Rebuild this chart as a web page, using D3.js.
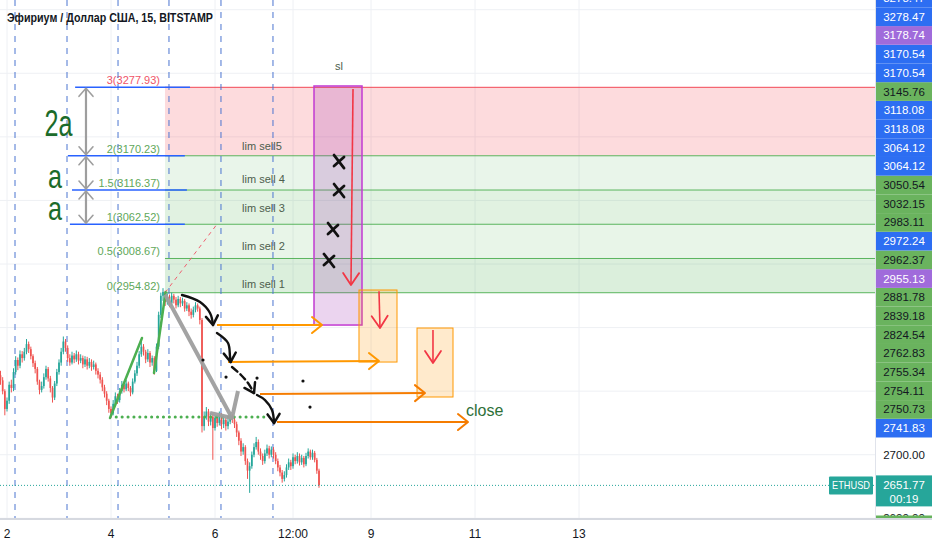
<!DOCTYPE html>
<html><head><meta charset="utf-8">
<script src="https://cdn.jsdelivr.net/npm/d3@7/dist/d3.min.js"></script>
<style>
body{margin:0;background:#fff;}
svg{display:block;font-family:"Liberation Sans",Arial,sans-serif;}
</style>
</head><body>
<svg id="c" width="932" height="550"></svg>
<script>
// ---------------- DATA ----------------
const title = "Эфириум / Доллар США, 15, BITSTAMP";
const monthBaseUTC = [2022, 1, 1];          // day 1 of the month shown
const firstCandleDay = 1.875;               // first (hourly-sampled) candle
const firstOpen = 2825;
const closes = [2817,2800,2772,2785,2810,2805,2830,2849,2840,2858,2852,2862,2874,2866,2855,2844,2835,2815,2802,2808,
2822,2835,2820,2805,2790,2812,2830,2845,2862,2878,2868,2852,2845,2856,2850,2858,2848,2852,2842,2850,
2840,2846,2838,2842,2832,2826,2818,2806,2796,2785,2772,2765,2780,2792,2786,2800,2810,2803,2812,2805,
2798,2815,2828,2840,2858,2870,2862,2850,2860,2845,2852,2832,2870,2920,2950,2956,2940,2948,2938,2950,
2944,2935,2945,2938,2942,2930,2935,2925,2920,2928,2935,2930,2912,2745,2760,2768,2752,2760,2742,2758,
2750,2762,2748,2755,2745,2752,2760,2755,2748,2735,2722,2705,2712,2690,2675,2682,2700,2712,2720,2705,
2698,2690,2702,2710,2700,2708,2700,2690,2680,2672,2662,2668,2680,2688,2682,2696,2690,2698,2688,2695,
2685,2698,2705,2696,2703,2692,2675,2652];
const highs = [2832,2822,2803,2790,2815,2818,2836,2855,2853,2864,2863,2868,2882,2878,2870,2858,2848,2838,2818,2815,
2828,2840,2838,2824,2808,2816,2835,2850,2868,2886,2882,2872,2858,2862,2860,2864,2862,2858,2856,2855,
2854,2852,2850,2848,2845,2836,2830,2822,2810,2800,2788,2776,2786,2798,2796,2805,2816,2814,2818,2815,
2808,2820,2833,2846,2863,2880,2874,2865,2866,2863,2856,2855,2875,2925,2955,2962,2958,2954,2952,2955,
2953,2948,2950,2948,2947,2945,2940,2938,2930,2933,2940,2938,2933,2915,2768,2775,2772,2766,2764,2763,
2762,2768,2765,2760,2758,2757,2765,2764,2758,2752,2738,2726,2718,2715,2694,2688,2705,2718,2728,2724,
2710,2702,2708,2716,2714,2713,2712,2704,2694,2684,2676,2674,2685,2694,2692,2702,2700,2704,2702,2700,
2698,2703,2710,2708,2708,2706,2695,2678];
const lows = [2810,2795,2762,2768,2780,2798,2800,2826,2833,2836,2845,2848,2858,2860,2850,2838,2828,2810,2795,2798,
2804,2818,2815,2798,2782,2786,2808,2826,2840,2858,2862,2846,2840,2842,2844,2846,2842,2844,2836,2838,
2834,2836,2832,2834,2826,2820,2812,2800,2790,2778,2766,2758,2762,2776,2780,2782,2796,2798,2800,2800,
2792,2795,2812,2824,2836,2854,2856,2844,2846,2838,2840,2826,2830,2866,2915,2942,2934,2936,2932,2934,
2938,2930,2932,2932,2934,2925,2926,2918,2914,2916,2924,2925,2905,2735,2738,2755,2745,2746,2692,2738,
2744,2746,2740,2742,2738,2740,2748,2750,2742,2728,2715,2698,2700,2684,2662,2640,2678,2696,2708,2700,
2692,2684,2686,2698,2694,2696,2694,2685,2674,2666,2656,2658,2664,2676,2676,2678,2685,2686,2683,2684,
2680,2682,2694,2692,2692,2688,2670,2648];

const fibRatios = [3, 2, 1.5, 1, 0.5, 0];
const fibPrices = [3277.93, 3170.23, 3116.37, 3062.52, 3008.67, 2954.82];
const fibStartDay = 5.038;
const fibTrend = [[5.038, 2954.82], [6.038, 3062.52]];
const limSellTexts = ["lim sell5", "lim sell 4", "lim sell 3", "lim sell 2", "lim sell 1"];
const limSellAnchor = [[6.52, 3179.3], [6.52, 3127.4], [6.52, 3081.8], [6.52, 3022.0], [6.52, 2962.2]];

const gridPrices = [2600, 2700, 2800, 2900, 3000, 3100, 3200, 3300, 3400];
const timeTickDays = [2, 4, 6, 7.5, 9, 11, 13];
const timeTickLabels = ["2", "4", "6", "12:00", "9", "11", "13"];
const sessionLineDays = [2.154, 3.154, 4.135, 5.115, 6.115, 7.115];

// user drawings (day, price)
const blueLevelStart = [3.31, 3.17, 3.25, 3.21];
const blueLevelEnd = [5.52, 5.42, 5.46, 5.42];
const grayArrowDay = 3.519;
const grayArrowSpans = [[3277.93, 3170.23], [3170.23, 3116.37], [3116.37, 3062.52]];
const bigTexts = ["2a", "a", "a"];
const bigTextAnchor = [[2.99, 3201.3], [2.923, 3119.5], [2.923, 3069.2]];
const greenTrends = [[[3.981, 2757.7], [4.596, 2883.6]], [[4.827, 2828.5], [5.05, 2955.5]]];
const greenDotted = [[4.10, 2759.3], [6.96, 2759.3]];
const grayPaths = [[[5.04, 2952], [6.327, 2757.7], [6.442, 2800.2]], [[5.904, 2765.6], [6.327, 2757.7]]];
const blackCurves = [
  [[5.365, 2951.2], [5.712, 2940.2], [5.904, 2922.9], [5.962, 2904.0]],
  [[6.038, 2891.4], [6.25, 2875.7], [6.288, 2855.0], [6.30, 2845.8]],
  [[6.327, 2838.0], [6.50, 2825.4], [6.635, 2812.8], [6.75, 2797.0]],
  [[6.808, 2793.9], [6.962, 2786.0], [7.096, 2770.3], [7.135, 2749.8]]
];
const blackCurveDashed = [false, false, true, false];
const blackDots = [[5.769, 2849.0], [6.212, 2822.2], [6.808, 2820.6], [7.692, 2816.0], [7.827, 2775.0]];
const crossMarks = [[8.385, 3160.4], [8.385, 3114.8], [8.269, 3053.5], [8.192, 3004.7]];
const slBox = {d0: 7.904, d1: 8.827, p0: 3280.0, p1: 2904.0, label: "sl", labelAt: [8.385, 3305.1]};
const targetBoxes = [{d0: 8.769, d1: 9.5, p0: 2959.1, p1: 2845.8}, {d0: 9.885, d1: 10.577, p0: 2899.3, p1: 2790.8}];
const redArrows = [[[8.654, 3275.3], [8.615, 2966.9]], [[9.154, 2957.0], [9.173, 2899.3]], [[10.192, 2896.0], [10.192, 2844.2]]];
const orangeArrows = [
  [[6.038, 2904.0], [8.058, 2904.0]],
  [[6.25, 2845.8], [9.154, 2847.4]],
  [[6.865, 2795.5], [10.038, 2797.0]],
  [[7.192, 2751.4], [10.865, 2751.4]]
];
const closeText = "close";
const closeAt = [10.827, 2760.8];

// price-scale labels (bottom-up stacking), kind: d=drawing, s=stop, f=fib
const axisLabelPrices = [3278.47,3278.47,3178.74,3170.54,3170.54,3145.76,3118.08,3118.08,3064.12,3064.12,3050.54,3032.15,
  2983.11,2972.24,2962.37,2955.13,2881.78,2839.18,2824.54,2762.83,2755.34,2754.11,2750.73,2741.83];
const axisLabelKinds = ["d","d","s","d","d","f","d","d","d","d","f","f","f","d","f","s","f","f","f","f","f","f","f","d"];
const symbol = "ETHUSD";
const lastPrice = 2651.77;
const countdown = "00:19";

// ---------------- CHART ----------------
const W = 932, H = 550, plotR = 875, plotB = 518;
const svg = d3.select("#c");
const base = Date.UTC(...monthBaseUTC);
const D = d => new Date(base + (d - 1) * 864e5);
const x = d3.scaleUtc().domain([D(2), D(13)]).range([7, 579]);
const y = d3.scaleLinear().domain([2600, 3400]).range([518.3, 9.7]);
const X = d => x(D(d));
const P = ([d, p]) => [X(d), y(p)];

const defs = svg.append("defs");
defs.append("clipPath").attr("id", "plot").append("rect").attr("x", 0).attr("y", 0).attr("width", plotR).attr("height", plotB);
defs.append("clipPath").attr("id", "axis").append("rect").attr("x", plotR).attr("y", 0).attr("width", W - plotR).attr("height", plotB);
function marker(id, color, w, len, spread) {
  defs.append("marker").attr("id", id).attr("markerUnits", "userSpaceOnUse")
    .attr("viewBox", `${-len - 2} ${-spread - 2} ${len + 4} ${2 * spread + 4}`)
    .attr("markerWidth", len + 4).attr("markerHeight", 2 * spread + 4)
    .attr("refX", 0).attr("refY", 0).attr("orient", "auto-start-reverse")
    .append("path").attr("d", `M${-len},${-spread}L0,0L${-len},${spread}`)
    .attr("fill", "none").attr("stroke", color).attr("stroke-width", w).attr("stroke-linecap", "round").attr("stroke-linejoin", "round");
}
marker("mBlack", "#111", 2.5, 9, 6);
marker("mOrange", "#ff9800", 2, 10, 8);
marker("mOrange2", "#f57c00", 2, 10, 8);
marker("mRed", "#f23645", 1.8, 12, 8);
marker("mGray", "#9e9e9e", 1.6, 8, 7);

svg.append("rect").attr("width", W).attr("height", H).attr("fill", "#fff");
const g = svg.append("g").attr("clip-path", "url(#plot)");

// grid
g.selectAll(".hg").data(gridPrices).join("line").attr("x1", 0).attr("x2", plotR)
  .attr("y1", d => y(d)).attr("y2", d => y(d)).attr("stroke", "#eef0f4").attr("stroke-width", 1);
g.selectAll(".vg").data(timeTickDays).join("line").attr("x1", d => X(d)).attr("x2", d => X(d))
  .attr("y1", 0).attr("y2", plotB).attr("stroke", "#eef0f4").attr("stroke-width", 1);

// fib zones
const zoneFill = ["rgba(242,54,69,0.18)", "rgba(76,175,80,0.12)", "rgba(76,175,80,0.17)", "rgba(76,175,80,0.13)", "rgba(76,175,80,0.2)"];
for (let i = 0; i < fibPrices.length - 1; i++) {
  g.append("rect").attr("x", X(fibStartDay)).attr("width", plotR - X(fibStartDay))
    .attr("y", y(fibPrices[i])).attr("height", y(fibPrices[i + 1]) - y(fibPrices[i])).attr("fill", zoneFill[i]);
}
fibPrices.forEach((p, i) => {
  g.append("line").attr("x1", X(fibStartDay)).attr("x2", plotR).attr("y1", y(p)).attr("y2", y(p))
    .attr("stroke", i === 0 ? "#f23645" : "#4caf50").attr("stroke-width", 1).attr("opacity", 0.9);
  g.append("text").attr("x", X(fibStartDay) - 5).attr("y", y(p) - 3).attr("text-anchor", "end")
    .attr("font-size", 11).attr("fill", i === 0 ? "#f05468" : "#5fa85a")
    .text(`${fibRatios[i]}(${p.toFixed(2)})`);
});
g.append("line").attr("x1", P(fibTrend[0])[0]).attr("y1", P(fibTrend[0])[1]).attr("x2", P(fibTrend[1])[0]).attr("y2", P(fibTrend[1])[1])
  .attr("stroke", "#f06070").attr("stroke-width", 1).attr("stroke-dasharray", "4,4");
limSellTexts.forEach((t, i) => {
  g.append("text").attr("x", X(limSellAnchor[i][0])).attr("y", y(limSellAnchor[i][1])).attr("font-size", 11)
    .attr("fill", "#4d5e4d").text(t);
});

// session dashed verticals
g.selectAll(".sv").data(sessionLineDays).join("line").attr("x1", d => X(d)).attr("x2", d => X(d))
  .attr("y1", 0).attr("y2", plotB).attr("stroke", "#4a74d0").attr("stroke-width", 1).attr("stroke-dasharray", "6,6");

// candles
const candles = closes.map((c, i) => ({
  t: D(firstCandleDay + i / 24), o: i === 0 ? firstOpen : closes[i - 1], h: highs[i], l: lows[i], c
}));
const cg = g.append("g");
candles.forEach(k => {
  const col = k.c >= k.o ? "#26a69a" : "#ef5350";
  const cx = x(k.t);
  cg.append("line").attr("x1", cx).attr("x2", cx).attr("y1", y(k.h)).attr("y2", y(k.l)).attr("stroke", col).attr("stroke-width", 1);
  const y0 = y(Math.max(k.o, k.c)), y1 = y(Math.min(k.o, k.c));
  cg.append("rect").attr("x", cx - 0.85).attr("width", 1.7).attr("y", y0).attr("height", Math.max(1, y1 - y0)).attr("fill", col);
});

// blue level lines
blueLevelStart.forEach((d0, i) => {
  g.append("line").attr("x1", X(d0)).attr("x2", X(blueLevelEnd[i])).attr("y1", y(fibPrices[i])).attr("y2", y(fibPrices[i]))
    .attr("stroke", "#2962ff").attr("stroke-width", 1.5);
});
// gray double arrows
grayArrowSpans.forEach(([a, b]) => {
  g.append("line").attr("x1", X(grayArrowDay)).attr("x2", X(grayArrowDay)).attr("y1", y(a) + 1).attr("y2", y(b) - 1)
    .attr("stroke", "#9e9e9e").attr("stroke-width", 2.2).attr("marker-start", "url(#mGray)").attr("marker-end", "url(#mGray)");
});
const bigLen = [28, 14, 14];
const bigSize = [36, 33, 33];
bigTexts.forEach((t, i) => {
  g.append("text").attr("x", X(bigTextAnchor[i][0])).attr("y", y(bigTextAnchor[i][1])).attr("text-anchor", "middle")
    .attr("font-size", bigSize[i]).attr("fill", "#1b6b2a").attr("textLength", bigLen[i]).attr("lengthAdjust", "spacingAndGlyphs").text(t);
});

// green trend lines & dotted level
greenTrends.forEach(seg => {
  g.append("line").attr("x1", P(seg[0])[0]).attr("y1", P(seg[0])[1]).attr("x2", P(seg[1])[0]).attr("y2", P(seg[1])[1])
    .attr("stroke", "#4caf50").attr("stroke-width", 2.5).attr("stroke-linecap", "round");
});
g.append("line").attr("x1", P(greenDotted[0])[0]).attr("y1", P(greenDotted[0])[1]).attr("x2", P(greenDotted[1])[0]).attr("y2", P(greenDotted[1])[1])
  .attr("stroke", "#4caf50").attr("stroke-width", 3).attr("stroke-dasharray", "0.1,5.8").attr("stroke-linecap", "round");

// gray paths
const line = d3.line().x(d => X(d[0])).y(d => y(d[1]));
grayPaths.forEach(pth => {
  g.append("path").attr("d", line(pth)).attr("fill", "none").attr("stroke", "#9e9e9e").attr("stroke-width", 4)
    .attr("stroke-linejoin", "round").attr("opacity", 0.95);
});

// boxes
g.append("rect").attr("x", X(slBox.d0)).attr("width", X(slBox.d1) - X(slBox.d0)).attr("y", y(slBox.p0)).attr("height", y(slBox.p1) - y(slBox.p0))
  .attr("fill", "rgba(156,39,176,0.2)").attr("stroke", "#c23ad2").attr("stroke-width", 1.5);
g.append("text").attr("x", X(slBox.labelAt[0])).attr("y", y(slBox.labelAt[1])).attr("text-anchor", "middle").attr("font-size", 11)
  .attr("fill", "#4d5e4d").text(slBox.label);
targetBoxes.forEach(b => {
  g.append("rect").attr("x", X(b.d0)).attr("width", X(b.d1) - X(b.d0)).attr("y", y(b.p0)).attr("height", y(b.p1) - y(b.p0))
    .attr("fill", "rgba(255,152,0,0.2)").attr("stroke", "#ff9800").attr("stroke-width", 1);
});

// orange arrows
orangeArrows.forEach((seg, i) => {
  g.append("line").attr("x1", P(seg[0])[0]).attr("y1", P(seg[0])[1]).attr("x2", P(seg[1])[0]).attr("y2", P(seg[1])[1])
    .attr("stroke", i >= 2 ? "#f57c00" : "#ff9800").attr("stroke-width", 2)
    .attr("marker-end", i >= 2 ? "url(#mOrange2)" : "url(#mOrange)");
});
g.append("text").attr("x", X(closeAt[0])).attr("y", y(closeAt[1])).attr("font-size", 16).attr("fill", "#2e7038").text(closeText);

// red arrows
redArrows.forEach(seg => {
  g.append("line").attr("x1", P(seg[0])[0]).attr("y1", P(seg[0])[1]).attr("x2", P(seg[1])[0]).attr("y2", P(seg[1])[1])
    .attr("stroke", "#f23645").attr("stroke-width", 1.6).attr("marker-end", "url(#mRed)");
});

// cross marks
crossMarks.forEach(c => {
  const [cx, cy] = P(c);
  g.append("path").attr("d", `M${cx - 5},${cy - 7}L${cx + 5},${cy + 6}M${cx + 5},${cy - 5}L${cx - 5},${cy + 4}`)
    .attr("stroke", "#111").attr("stroke-width", 2.8).attr("stroke-linecap", "round");
});

// black curves
const curve = d3.line().x(d => X(d[0])).y(d => y(d[1])).curve(d3.curveCatmullRom);
blackCurves.forEach((c, i) => {
  g.append("path").attr("d", curve(c)).attr("fill", "none").attr("stroke", "#111").attr("stroke-width", 2.4)
    .attr("stroke-linecap", "round").attr("stroke-dasharray", blackCurveDashed[i] ? "7,4" : null)
    .attr("marker-end", "url(#mBlack)");
});
blackDots.forEach(dt => {
  g.append("circle").attr("cx", P(dt)[0]).attr("cy", P(dt)[1]).attr("r", 1.6).attr("fill", "#111");
});

// current price line
g.append("line").attr("x1", 0).attr("x2", plotR).attr("y1", y(lastPrice)).attr("y2", y(lastPrice))
  .attr("stroke", "#26a69a").attr("stroke-width", 1).attr("stroke-dasharray", "1,2");
svg.append("rect").attr("x", 829).attr("y", y(lastPrice) - 9).attr("width", 44).attr("height", 18).attr("rx", 1).attr("fill", "#26a69a");
svg.append("text").attr("x", 851).attr("y", y(lastPrice) + 4).attr("text-anchor", "middle").attr("font-size", 11.5)
  .attr("fill", "#fff").attr("textLength", 38).attr("lengthAdjust", "spacingAndGlyphs").text(symbol);

// title
svg.append("text").attr("x", 7).attr("y", 22).attr("font-size", 12.5).attr("font-weight", "bold").attr("fill", "#131722")
  .attr("textLength", 206).attr("lengthAdjust", "spacingAndGlyphs").text(title);

// ---------------- PRICE AXIS ----------------
svg.append("line").attr("x1", plotR + 0.5).attr("x2", plotR + 0.5).attr("y1", 0).attr("y2", plotB).attr("stroke", "#e0e3eb");
const ax = svg.append("g").attr("clip-path", "url(#axis)");
[2600, 2700].forEach(p => {
  ax.append("text").attr("x", 904).attr("y", y(p) + 4).attr("text-anchor", "middle").attr("font-size", 11.5).attr("fill", "#131722").text(p.toFixed(2));
});
ax.append("rect").attr("x", 876).attr("y", plotB - 2.5).attr("width", 56).attr("height", 3).attr("fill", "#66b35c");
const kindFill = {d: "#2d6ef2", s: "#a06bdb", f: "#6ab35e"};
const kindText = {d: "#ffffff", s: "#ffffff", f: "#131722"};
const LH = 18.7;
const order = axisLabelPrices.map((p, i) => i).sort((a, b) => axisLabelPrices[a] - axisLabelPrices[b]);
let prevY = Infinity;
order.forEach(i => {
  const cy = Math.min(y(axisLabelPrices[i]), prevY - LH);
  prevY = cy;
  ax.append("rect").attr("x", 876).attr("y", cy - LH / 2).attr("width", 56).attr("height", LH).attr("fill", kindFill[axisLabelKinds[i]]);
  ax.append("text").attr("x", 904).attr("y", cy + 4).attr("text-anchor", "middle").attr("font-size", 11.5)
    .attr("fill", kindText[axisLabelKinds[i]]).text(axisLabelPrices[i].toFixed(2));
});
svg.append("rect").attr("x", 876).attr("y", y(lastPrice) - 10).attr("width", 56).attr("height", 31).attr("fill", "#26a69a");
svg.append("text").attr("x", 904).attr("y", y(lastPrice) + 4).attr("text-anchor", "middle").attr("font-size", 11.5).attr("fill", "#fff").text(lastPrice.toFixed(2));
svg.append("text").attr("x", 904).attr("y", y(lastPrice) + 18).attr("text-anchor", "middle").attr("font-size", 11.5).attr("fill", "#fff").text(countdown);

// ---------------- TIME AXIS ----------------
svg.append("line").attr("x1", 0).attr("x2", W).attr("y1", plotB + 1).attr("y2", plotB + 1).attr("stroke", "#d6d9e0").attr("stroke-width", 2);
svg.selectAll(".tl").data(timeTickDays).join("text").attr("x", d => X(d)).attr("y", 538).attr("text-anchor", "middle")
  .attr("font-size", 12).attr("fill", "#131722").text((d, i) => timeTickLabels[i]);
</script>
</body></html>
